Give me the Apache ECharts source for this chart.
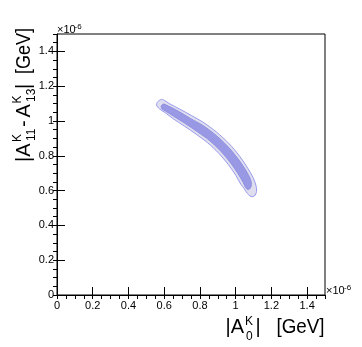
<!DOCTYPE html>
<html>
<head>
<meta charset="utf-8">
<script src="https://cdn.jsdelivr.net/npm/echarts@6/dist/echarts.min.js"></script>
<style>
html,body{margin:0;padding:0;background:#fff;}
#chart{width:362px;height:347px;}
</style>
</head>
<body>
<div id="chart"></div>
<script>
// Axis range (units of 1e-6 GeV)
var axisMin = 0, axisMax = 1.5, majorStep = 0.2, minorStep = 0.05;

// Outer contour polygon vertices
var outerX = [0.557,0.565,0.585,0.604,0.627,0.684,0.753,0.822,0.892,0.963,1.022,1.068,1.098,1.113,1.117,1.105,1.086,1.066,1.047,1.029,1.002,0.960,0.906,0.843,0.779,0.714,0.649,0.604,0.574];
var outerY = [1.092,1.112,1.124,1.117,1.101,1.070,1.031,0.990,0.937,0.870,0.798,0.728,0.674,0.632,0.595,0.569,0.566,0.583,0.612,0.636,0.686,0.748,0.814,0.875,0.924,0.970,1.014,1.049,1.069];

// Inner contour polygon vertices
var innerX = [0.583,0.594,0.612,0.678,0.746,0.814,0.884,0.953,1.011,1.056,1.083,1.088,1.081,1.066,1.054,1.043,1.014,0.971,0.916,0.852,0.786,0.720,0.655,0.609,0.589];
var innerY = [1.084,1.097,1.092,1.057,1.015,0.976,0.923,0.857,0.786,0.718,0.665,0.635,0.612,0.607,0.620,0.645,0.696,0.760,0.827,0.889,0.938,0.984,1.026,1.056,1.068];

function pairs(xs, ys){ return xs.map(function(x,i){ return [x, ys[i]]; }); }

var FONT = '"Liberation Sans", Arial, Helvetica, sans-serif';
var chart = echarts.init(document.getElementById('chart'), null, {renderer:'canvas'});

function polySeries(name, xs, ys, fill, stroke){
  return {
    type:'custom', name:name, xAxisIndex:0, yAxisIndex:0,
    data: pairs(xs, ys),
    encode:{x:0,y:1},
    clip:true,
    renderItem:function(params, api){
      if (params.dataIndex !== 0) return null;
      var pts = pairs(xs, ys).map(function(p){ return api.coord(p); });
      return {type:'polygon', shape:{points:pts, smooth:0.3},
              style:{fill:fill, stroke:stroke, lineWidth:1}};
    }
  };
}

function txt(x,y,text,size,align,va,sx){
  return {type:'text', x:x, y:y, silent:true, scaleX: sx || 1,
    style:{text:text, font: size+'px '+FONT, fill:'#000', align:align||'left', verticalAlign:va||'middle'}};
}

var axisCommon = function(interval, tickLen, showLabels){
  return {
    type:'value', min:axisMin, max:axisMax, interval:interval,
    axisLine:{show:true, onZero:false, lineStyle:{color:'#000', width:1}},
    axisTick:{show:true, inside:true, length:tickLen, lineStyle:{color:'#000', width:1}},
    axisLabel:{show:showLabels, color:'#000', fontSize:11, fontFamily:FONT, showMaxLabel:false, margin:5,
      formatter:function(v){ return String(Math.round(v*10)/10); }},
    splitLine:{show:false}
  };
};

var xMajor = axisCommon(majorStep, 8, true);
var xMinor = axisCommon(minorStep, 4, false); xMinor.axisLine = {show:false};
var yMajor = axisCommon(majorStep, 8, true); yMajor.axisLabel.margin = 3;
var yMinor = axisCommon(minorStep, 4, false); yMinor.axisLine = {show:false};

chart.setOption({
  animation:false,
  backgroundColor:'#fff',
  grid:{left:57, top:34, width:268, height:261, show:true, borderColor:'#000', borderWidth:1, backgroundColor:'transparent'},
  xAxis:[xMajor, xMinor],
  yAxis:[yMajor, yMinor],
  series:[
    polySeries('outer', outerX, outerY, '#dedeee', '#9a9aee'),
    polySeries('inner', innerX, innerY, '#9898e4', '#9090e0')
  ],
  graphic:[
    // x-axis title  |A^K_0| [GeV]
    txt(225.5, 327, '|A', 20),
    txt(245, 321.5, 'K', 12),
    txt(246, 337, '0', 12),
    txt(255.5, 327, '|', 20),
    txt(324.5, 327, '[GeV]', 20, 'right', 'middle', 0.94),
    // y-axis title  |A^K_11 - A^K_13| [GeV]
    {type:'group', x:24, y:161, rotation:Math.PI/2, children:[
      txt(-1, 0, '|A', 20),
      txt(19, -6, 'K', 12),
      txt(20, 8, '11', 12),
      txt(34, 0, '-', 20),
      txt(43.5, 0, 'A', 20),
      txt(57.5, -6, 'K', 12),
      txt(59, 8, '13', 12),
      txt(72, 0, '|', 20),
      txt(133, 0, '[GeV]', 20, 'right', 'middle', 0.9)
    ]},
    // exponent labels
    txt(57, 30, '\u00d710', 11),
    txt(74.5, 27, '-6', 8),
    txt(326, 291, '\u00d710', 11),
    txt(344, 287.5, '-6', 8)
  ]
});
</script>
</body>
</html>
